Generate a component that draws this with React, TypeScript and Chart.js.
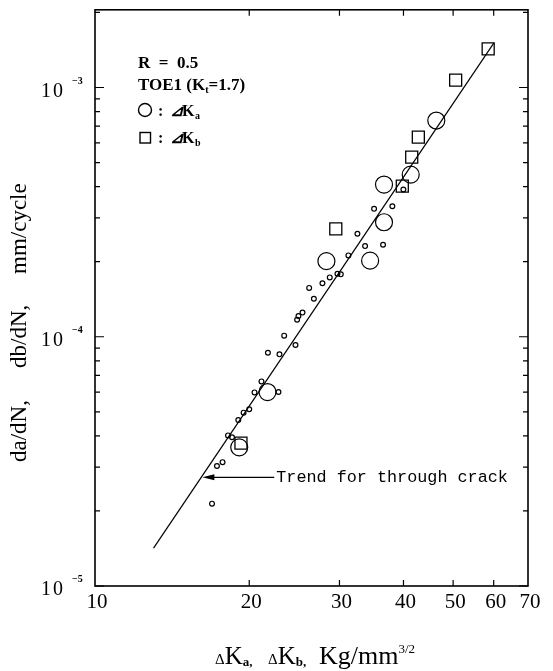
import React, { useEffect, useRef } from 'react';
import { Chart, registerables } from 'chart.js';
Chart.register(...registerables);

// small open circles (dK_a)
const smallX = [35.05, 38.05, 32.52, 31.23, 33.66, 36.49, 29.73, 30.18, 28.72, 27.79, 26.18, 26.74, 25.41, 24.95, 24.8, 23.4, 24.62, 21.75, 22.91, 21.13, 20.48, 22.81, 20.0, 19.5, 19.04, 18.18, 18.51, 17.3, 17.74, 16.92, 39.98];
const smallY = [3.26e-4, 3.34e-4, 2.59e-4, 2.12e-4, 2.31e-4, 2.34e-4, 1.79e-4, 1.78e-4, 1.73e-4, 1.64e-4, 1.57e-4, 1.42e-4, 1.25e-4, 1.21e-4, 1.17e-4, 1.01e-4, 9.27e-5, 8.63e-5, 8.5e-5, 6.62e-5, 5.98e-5, 6.0e-5, 5.12e-5, 4.96e-5, 4.63e-5, 4.02e-5, 3.95e-5, 3.03e-5, 3.14e-5, 2.14e-5, 3.9e-4];
// large open circles (dK_a)
const largeX = [46.36, 41.32, 36.65, 36.65, 28.29, 34.43, 21.71, 19.12];
const largeY = [7.37e-4, 4.47e-4, 4.08e-4, 2.88e-4, 2.01e-4, 2.02e-4, 6.0e-5, 3.6e-5];
// open squares (dK_b)
const squareX = [58.53, 50.57, 42.76, 41.51, 39.79, 29.51, 19.27];
const squareY = [1.43e-3, 1.07e-3, 6.32e-4, 5.26e-4, 4.02e-4, 2.71e-4, 3.74e-5];
// trend for through crack
const trendX = [13.01, 60.06];
const trendY = [1.42e-5, 1.51e-3];
// axis ticks
const xTickValues = [10, 20, 30, 40, 50, 60, 70];
const yMajorValues = [1e-5, 1e-4, 1e-3];
const yMajorExp = ['-5', '-4', '-3'];
// annotation arrow
const arrowHeadX = 16.2;
const arrowTailX = 22.38;
const arrowY = 2.73e-5;
const annotationText = 'Trend for through crack';

const SERIF = '"Liberation Serif", "Times New Roman", serif';

const decorPlugin = {
  id: 'decor',
  afterDraw(chart: any) {
    const ctx = chart.ctx as CanvasRenderingContext2D;
    const a = chart.chartArea;
    const xs = chart.scales.x;
    const ys = chart.scales.y;
    ctx.save();
    ctx.strokeStyle = '#000';
    ctx.fillStyle = '#000';
    // border
    ctx.lineWidth = 1.6;
    ctx.strokeRect(a.left, a.top, a.right - a.left, a.bottom - a.top);

    // y ticks (inside, both sides)
    ctx.lineWidth = 1.2;
    for (let e = -5; e <= -3; e++) {
      for (let m = 1; m <= 9; m++) {
        const v = m * Math.pow(10, e);
        if (v < ys.min || v > ys.max) continue;
        const py = ys.getPixelForValue(v);
        const len = m === 1 ? 9 : 5;
        ctx.beginPath();
        ctx.moveTo(a.left, py); ctx.lineTo(a.left + len, py);
        ctx.moveTo(a.right, py); ctx.lineTo(a.right - len, py);
        ctx.stroke();
      }
    }
    // x ticks
    for (const v of xTickValues) {
      if (v <= xs.min || v >= xs.max) continue;
      const px = xs.getPixelForValue(v);
      ctx.beginPath();
      ctx.moveTo(px, a.bottom); ctx.lineTo(px, a.bottom - 6);
      ctx.moveTo(px, a.top); ctx.lineTo(px, a.top + 6);
      ctx.stroke();
    }

    // x tick labels
    ctx.font = `21px ${SERIF}`;
    ctx.textAlign = 'center';
    ctx.textBaseline = 'alphabetic';
    for (const v of xTickValues) {
      const px = xs.getPixelForValue(v);
      ctx.fillText(String(v), px + 2, a.bottom + 22);
    }
    // y tick labels: "1 0" with superscript exponent
    yMajorValues.forEach((v, i) => {
      const py = ys.getPixelForValue(v);
      ctx.font = `20px ${SERIF}`;
      ctx.textAlign = 'left';
      ctx.fillText('1', 41, py + 9);
      ctx.fillText('0', 53, py + 9);
      ctx.font = `bold 10px ${SERIF}`;
      ctx.fillText(yMajorExp[i].replace('-', '\u2212'), 72, py - 4);
    });

    // y axis title (words placed along the axis)
    ctx.save();
    ctx.translate(26, 0);
    ctx.rotate(-Math.PI / 2);
    ctx.font = `23px ${SERIF}`;
    ctx.textAlign = 'left';
    ctx.fillText('da/dN,', -462, 0);
    ctx.fillText('db/dN,', -368, 0);
    ctx.fillText('mm/cycle', -274, 0);
    ctx.restore();

    // x axis title: ΔKa, ΔKb, Kg/mm^3/2
    {
      let x = 215;
      const yb = 664;
      const seg = (t: string, font: string, dy = 0) => {
        ctx.font = font;
        ctx.textAlign = 'left';
        ctx.fillText(t, x, yb + dy);
        x += ctx.measureText(t).width;
      };
      seg('\u0394', `15px ${SERIF}`);
      seg('K', `25px ${SERIF}`);
      seg('a,', `bold 13px ${SERIF}`, 2);
      x = 268;
      seg('\u0394', `15px ${SERIF}`);
      seg('K', `25px ${SERIF}`);
      seg('b,', `bold 13px ${SERIF}`, 2);
      x = 319;
      seg('Kg/mm', `26px ${SERIF}`);
      seg('3/2', `13px ${SERIF}`, -11);
    }

    // legend block
    {
      ctx.textAlign = 'left';
      ctx.font = `bold 17px ${SERIF}`;
      ctx.fillText('R  =  0.5', 138, 68);
      let x = 138;
      const t1 = 'TOE1 (K';
      ctx.fillText(t1, x, 90);
      x += ctx.measureText(t1).width;
      ctx.font = `bold 10px ${SERIF}`;
      ctx.fillText('t', x, 93);
      x += ctx.measureText('t').width;
      ctx.font = `bold 17px ${SERIF}`;
      ctx.fillText('=1.7)', x, 90);

      ctx.lineWidth = 1.4;
      ctx.beginPath();
      ctx.arc(145, 110, 6.5, 0, Math.PI * 2);
      ctx.stroke();
      ctx.strokeRect(140, 132.5, 10.5, 10.5);
      const row = (yb: number, sub: string) => {
        ctx.font = `bold 16px ${SERIF}`;
        ctx.fillText(':', 158, yb);
        ctx.font = `italic bold 16px ${SERIF}`;
        ctx.fillText('\u22BF', 170, yb);
        ctx.font = `bold 16px ${SERIF}`;
        ctx.fillText('K', 182, yb);
        ctx.font = `bold 10px ${SERIF}`;
        ctx.fillText(sub, 195, yb + 3);
      };
      row(116, 'a');
      row(143, 'b');
    }

    // annotation arrow + text
    {
      const hx = xs.getPixelForValue(arrowHeadX);
      const tx = xs.getPixelForValue(arrowTailX);
      const py = ys.getPixelForValue(arrowY);
      ctx.lineWidth = 1.2;
      ctx.beginPath();
      ctx.moveTo(tx, py); ctx.lineTo(hx + 6, py);
      ctx.stroke();
      ctx.beginPath();
      ctx.moveTo(hx, py);
      ctx.lineTo(hx + 12, py - 3);
      ctx.lineTo(hx + 12, py + 3);
      ctx.closePath();
      ctx.fill();
      ctx.font = `16.8px "Liberation Mono", monospace`;
      ctx.textAlign = 'left';
      ctx.fillText(annotationText, tx + 2, py + 5);
    }
    ctx.restore();
  },
};

export default function App() {
  const ref = useRef<HTMLCanvasElement | null>(null);
  useEffect(() => {
    document.body.style.margin = '0';
    const toPts = (xa: number[], ya: number[]) => xa.map((x, i) => ({ x, y: ya[i] }));
    const chart = new Chart(ref.current!, {
      type: 'scatter',
      data: {
        datasets: [
          {
            label: 'trend',
            data: toPts(trendX, trendY),
            showLine: true,
            borderColor: '#000',
            borderWidth: 1.2,
            pointRadius: 0,
          },
          {
            label: 'small',
            data: toPts(smallX, smallY),
            pointStyle: 'circle',
            pointRadius: 2.4,
            borderWidth: 1.2,
            borderColor: '#000',
            backgroundColor: 'rgba(0,0,0,0)',
          },
          {
            label: 'large',
            data: toPts(largeX, largeY),
            pointStyle: 'circle',
            pointRadius: 8.5,
            borderWidth: 1.2,
            borderColor: '#000',
            backgroundColor: 'rgba(0,0,0,0)',
          },
          {
            label: 'square',
            data: toPts(squareX, squareY),
            pointStyle: 'rect',
            pointRadius: 8.5,
            borderWidth: 1.3,
            borderColor: '#000',
            backgroundColor: 'rgba(0,0,0,0)',
          },
        ],
      },
      options: {
        animation: false,
        responsive: false,
        devicePixelRatio: 1,
        layout: { padding: { left: 95, right: 25, top: 8, bottom: 85 } },
        plugins: { legend: { display: false }, tooltip: { enabled: false } },
        scales: {
          x: { type: 'logarithmic', min: 10, max: 70, display: false },
          y: { type: 'logarithmic', min: 1e-5, max: 2.05e-3, display: false },
        },
      },
      plugins: [decorPlugin],
    });
    return () => chart.destroy();
  }, []);
  return <canvas ref={ref} width={553} height={671} style={{ display: 'block' }} />;
}
